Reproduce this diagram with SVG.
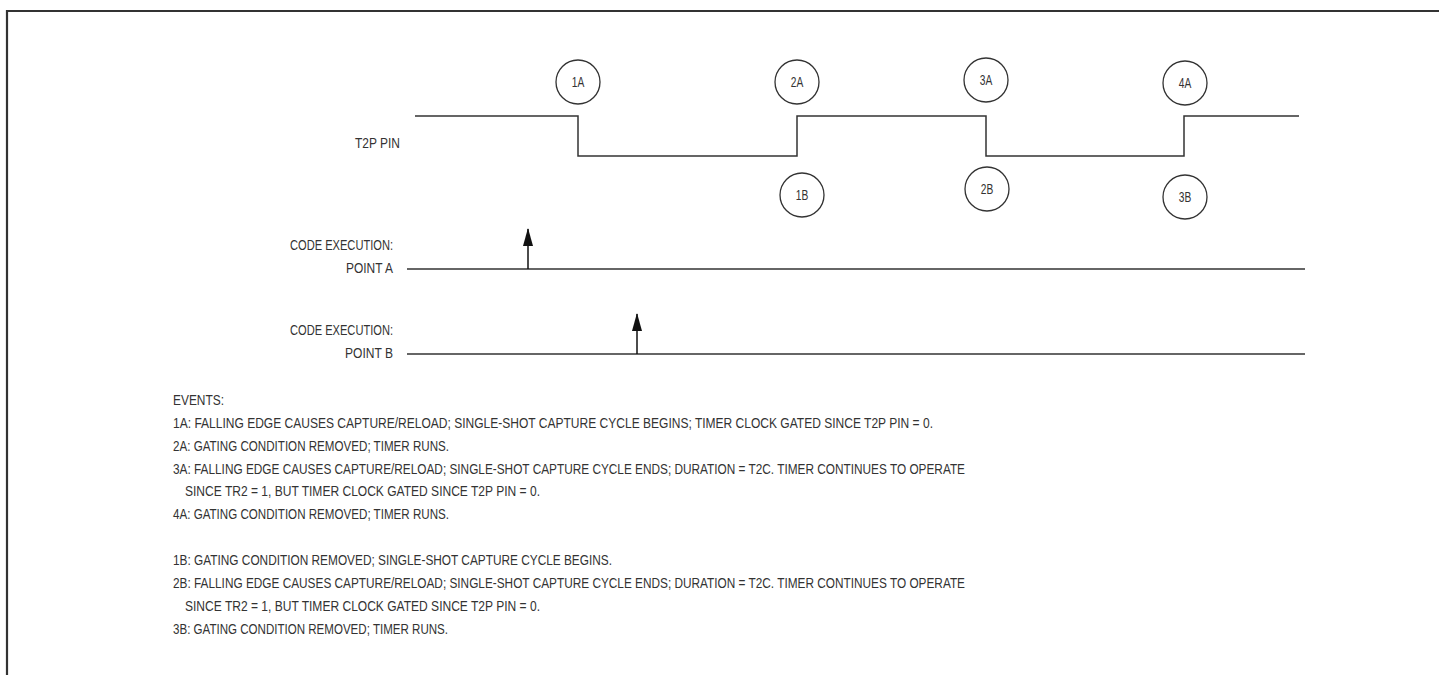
<svg xmlns="http://www.w3.org/2000/svg" width="1439" height="675" viewBox="0 0 1439 675">
<defs>
<style>
text{font-family:"Liberation Sans",Arial,sans-serif;font-size:14px;fill:#333}
.r{text-anchor:end}
.c{text-anchor:middle}
.w{fill:none;stroke:#333;stroke-width:1.5}
.ci{fill:#fff;stroke:#333;stroke-width:1.3}
</style>
<marker id="ah" viewBox="0 0 18 10" refX="17" refY="5" markerWidth="18" markerHeight="10" markerUnits="userSpaceOnUse" orient="auto">
<path d="M18 5 L0 0 L0 10 Z" fill="#111"/>
</marker>
</defs>
<rect width="1439" height="675" fill="#fff"/>
<path d="M7 675 V11 H1439" fill="none" stroke="#333" stroke-width="2.2"/>
<g id="labels">
<text class="r" x="400" y="148" textLength="45" lengthAdjust="spacingAndGlyphs">T2P PIN</text>
<text class="r" x="393" y="250" textLength="103" lengthAdjust="spacingAndGlyphs">CODE EXECUTION:</text>
<text class="r" x="393" y="273" textLength="47" lengthAdjust="spacingAndGlyphs">POINT A</text>
<text class="r" x="393" y="335" textLength="103" lengthAdjust="spacingAndGlyphs">CODE EXECUTION:</text>
<text class="r" x="393" y="358" textLength="48" lengthAdjust="spacingAndGlyphs">POINT B</text>
</g>
<g id="connectors">
<path class="w" d="M415 116 H578 V156 H797 V116 H986 V156 H1184 V116 H1299"/>
<path class="w" d="M407 269 H1305"/>
<path class="w" d="M407 354 H1305"/>
<path class="w" d="M528 269 V229" marker-end="url(#ah)" style="stroke:#111"/>
<path class="w" d="M637 354 V314" marker-end="url(#ah)" style="stroke:#111"/>
</g>
<g id="n1A"><circle class="ci" cx="578" cy="82" r="22"/><text class="c" x="578" y="87" textLength="12.5" lengthAdjust="spacingAndGlyphs">1A</text></g>
<g id="n2A"><circle class="ci" cx="797" cy="82" r="22"/><text class="c" x="797" y="87" textLength="12.5" lengthAdjust="spacingAndGlyphs">2A</text></g>
<g id="n3A"><circle class="ci" cx="986" cy="80" r="22"/><text class="c" x="986" y="85" textLength="12.5" lengthAdjust="spacingAndGlyphs">3A</text></g>
<g id="n4A"><circle class="ci" cx="1185" cy="83" r="22"/><text class="c" x="1185" y="88" textLength="12.5" lengthAdjust="spacingAndGlyphs">4A</text></g>
<g id="n1B"><circle class="ci" cx="802" cy="195" r="22"/><text class="c" x="802" y="200" textLength="12.5" lengthAdjust="spacingAndGlyphs">1B</text></g>
<g id="n2B"><circle class="ci" cx="987" cy="189" r="22"/><text class="c" x="987" y="194" textLength="12.5" lengthAdjust="spacingAndGlyphs">2B</text></g>
<g id="n3B"><circle class="ci" cx="1185" cy="197" r="22"/><text class="c" x="1185" y="202" textLength="12.5" lengthAdjust="spacingAndGlyphs">3B</text></g>
<g id="events">
<text x="173" y="405" textLength="51" lengthAdjust="spacingAndGlyphs">EVENTS:</text>
<text x="173" y="428" textLength="760" lengthAdjust="spacingAndGlyphs">1A: FALLING EDGE CAUSES CAPTURE/RELOAD; SINGLE-SHOT CAPTURE CYCLE BEGINS; TIMER CLOCK GATED SINCE T2P PIN = 0.</text>
<text x="173" y="451" textLength="276" lengthAdjust="spacingAndGlyphs">2A: GATING CONDITION REMOVED; TIMER RUNS.</text>
<text x="173" y="474" textLength="792" lengthAdjust="spacingAndGlyphs">3A: FALLING EDGE CAUSES CAPTURE/RELOAD; SINGLE-SHOT CAPTURE CYCLE ENDS; DURATION = T2C. TIMER CONTINUES TO OPERATE</text>
<text x="185" y="496" textLength="355" lengthAdjust="spacingAndGlyphs">SINCE TR2 = 1, BUT TIMER CLOCK GATED SINCE T2P PIN = 0.</text>
<text x="173" y="519" textLength="276" lengthAdjust="spacingAndGlyphs">4A: GATING CONDITION REMOVED; TIMER RUNS.</text>
<text x="173" y="565" textLength="439" lengthAdjust="spacingAndGlyphs">1B: GATING CONDITION REMOVED; SINGLE-SHOT CAPTURE CYCLE BEGINS.</text>
<text x="173" y="588" textLength="792" lengthAdjust="spacingAndGlyphs">2B: FALLING EDGE CAUSES CAPTURE/RELOAD; SINGLE-SHOT CAPTURE CYCLE ENDS; DURATION = T2C. TIMER CONTINUES TO OPERATE</text>
<text x="185" y="611" textLength="355" lengthAdjust="spacingAndGlyphs">SINCE TR2 = 1, BUT TIMER CLOCK GATED SINCE T2P PIN = 0.</text>
<text x="173" y="634" textLength="275" lengthAdjust="spacingAndGlyphs">3B: GATING CONDITION REMOVED; TIMER RUNS.</text>
</g>
</svg>
